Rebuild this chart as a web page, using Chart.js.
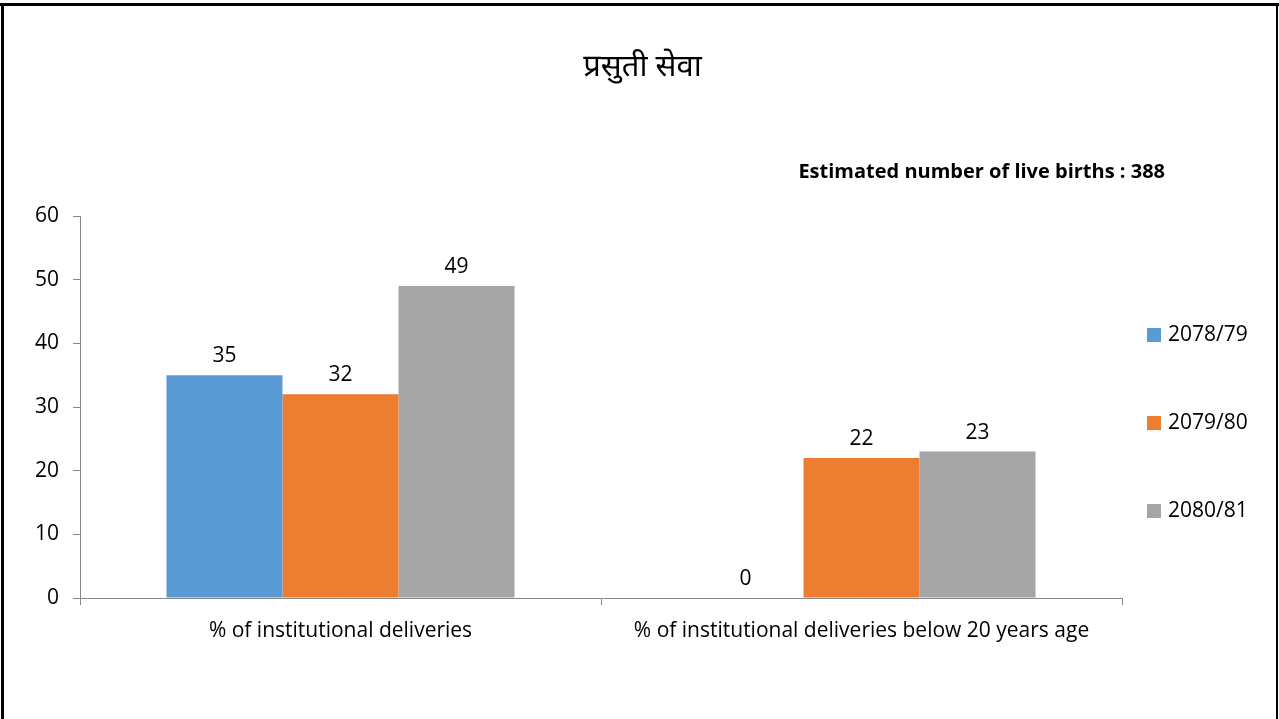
<!DOCTYPE html>
<html>
<head>
<meta charset="utf-8">
<script src="https://cdn.jsdelivr.net/npm/chart.js@4/dist/chart.umd.min.js"></script>
<style>
  html, body { margin: 0; padding: 0; background: #fff; }
  #wrap { position: relative; width: 1279px; height: 719px; }
</style>
</head>
<body>
<div id="wrap"><canvas id="c" width="1279" height="719"></canvas></div>
<script>
const titleText = 'प्रसुती सेवा';
const noteText = 'Estimated number of live births : 388';
const categories = ['% of institutional deliveries', '% of institutional deliveries below 20 years age'];
const seriesLabels = ['2078/79', '2079/80', '2080/81'];
const values2078 = [35, 0];
const values2079 = [32, 22];
const values2080 = [49, 23];
const seriesColors = ['#5B9BD5', '#ED7D31', '#A5A5A5'];
const yTicks = [0, 10, 20, 30, 40, 50, 60];

const FONT = '"Open Sans", Lato, sans-serif';
const TITLE_FONT = '"Noto Sans Devanagari", "Lohit Devanagari", "Noto Sans", sans-serif';
const axisColor = '#868686';

const framePlugin = {
  id: 'frame',
  afterDraw(chart) {
    const ctx = chart.ctx;
    ctx.save();
    ctx.fillStyle = '#000';
    ctx.fillRect(0, 3, 1279, 3);
    ctx.fillRect(1, 3, 3, 716);
    ctx.fillRect(1276, 3, 2, 716);
    ctx.restore();
  }
};

const extrasPlugin = {
  id: 'extras',
  afterDatasetsDraw(chart) {
    const ctx = chart.ctx;
    const area = chart.chartArea;
    ctx.save();
    // title
    ctx.font = '31px ' + TITLE_FONT;
    ctx.fillStyle = '#000';
    ctx.textAlign = 'center';
    ctx.textBaseline = 'middle';
    ctx.fillText(titleText, chart.width / 2 + 3, 70);
    // value labels
    ctx.font = '21px ' + FONT;
    chart.data.datasets.forEach((ds, i) => {
      const meta = chart.getDatasetMeta(i);
      meta.data.forEach((bar, j) => {
        ctx.fillText(String(ds.data[j]), bar.x, bar.y - 19);
      });
    });
    // note
    ctx.font = 'bold 20px ' + FONT;
    ctx.textAlign = 'right';
    ctx.fillText(noteText, area.right + 43, area.top - 44);
    // legend
    ctx.font = '21px ' + FONT;
    ctx.textAlign = 'left';
    chart.data.datasets.forEach((ds, i) => {
      const cy = area.top + 119 + i * 88;
      ctx.fillStyle = ds.backgroundColor;
      ctx.fillRect(area.right + 25, cy - 7, 14, 14);
      ctx.fillStyle = '#000';
      ctx.fillText(ds.label, area.right + 46, cy);
    });
    ctx.restore();
  }
};

new Chart(document.getElementById('c'), {
  type: 'bar',
  data: {
    labels: categories,
    datasets: [
      { label: seriesLabels[0], data: values2078, backgroundColor: seriesColors[0] },
      { label: seriesLabels[1], data: values2079, backgroundColor: seriesColors[1] },
      { label: seriesLabels[2], data: values2080, backgroundColor: seriesColors[2] }
    ]
  },
  options: {
    responsive: false,
    animation: false,
    devicePixelRatio: 1,
    layout: { padding: { left: 20, top: 216, right: 157, bottom: 0 } },
    datasets: { bar: { categoryPercentage: 0.668, barPercentage: 1.0 } },
    plugins: {
      legend: { display: false },
      tooltip: { enabled: false },
      title: { display: false }
    },
    scales: {
      x: {
        grid: { display: true, drawOnChartArea: false, drawTicks: true, tickLength: 7, color: axisColor, offset: true },
        border: { display: true, color: axisColor, width: 1 },
        ticks: { color: '#000', font: { family: FONT, size: 21 }, padding: 13, maxRotation: 0 },
        afterFit(scale) { scale.height = 121; }
      },
      y: {
        min: 0, max: 60,
        afterBuildTicks(scale) { scale.ticks = yTicks.map(v => ({ value: v })); },
        grid: { display: true, drawOnChartArea: false, drawTicks: true, tickLength: 7, color: axisColor },
        border: { display: true, color: axisColor, width: 1 },
        ticks: { color: '#000', font: { family: FONT, size: 21 }, padding: 14 },
        afterFit(scale) { scale.width = 60; }
      }
    }
  },
  plugins: [framePlugin, extrasPlugin]
});
</script>
</body>
</html>
